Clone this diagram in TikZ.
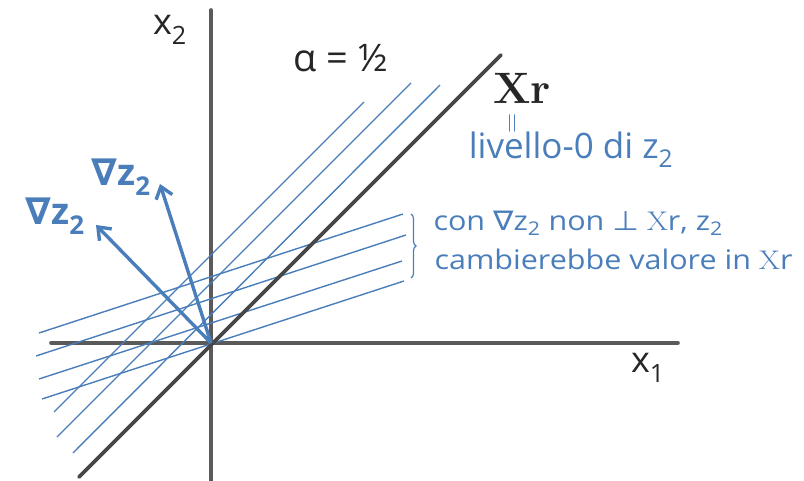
\documentclass[tikz,border=0pt]{standalone}
\usepackage{fontspec}
\setsansfont{Open Sans}
\newfontfamily\symf{DejaVu Sans}
\usetikzlibrary{arrows.meta,decorations.pathreplacing}
\definecolor{pen}{HTML}{4A7EBB}
\definecolor{axisgray}{HTML}{5A5A5A}
\definecolor{ink}{HTML}{262626}
\begin{document}
\begin{tikzpicture}[x=1pt,y=-1pt,
  axisline/.style={line width=3.6pt,color=axisgray,line cap=round},
  xrline/.style={line width=3.6pt,color=ink!85,line cap=round},
  level/.style={line width=1.4pt,color=pen},
  grad/.style={line width=3.4pt,color=pen,-{Straight Barb[length=11pt,width=17pt,line width=3.4pt]}},
  bluetxt/.style={color=pen,font=\sffamily\fontsize{27}{30}\selectfont},
  blacktxt/.style={color=ink,font=\sffamily\fontsize{36}{40}\selectfont}]
\useasboundingbox (0,0) rectangle (804,481);
\coordinate (O) at (211,343);
% axes
\coordinate (yb) at (211,481); \coordinate (yt) at (211,10);
\coordinate (xl) at (51,343);  \coordinate (xr) at (678,343);
\draw[axisline] (yb) -- (yt);
\draw[axisline] (xl) -- (xr);
% level lines alpha = 1/2 (parallel to X_r)
\draw[level] (54,412) -- (364,102);
\draw[level] (57,437) -- (411,83);
\draw[level] (73,453) -- (440,85);
% level lines not parallel
\draw[level] (39,333) -- (403,214);
\draw[level] (36,356) -- (406,235);
\draw[level] (39,379) -- (402,261);
\draw[level] (42,399) -- (404,281);
% X_r
\coordinate (Xa) at (79,477); \coordinate (Xb) at (501,55);
\draw[xrline] (Xa) -- (Xb);
% gradients
\coordinate (g1) at (160,184); \coordinate (g2) at (96,225);
\draw[grad] (O) -- (g1);
\draw[grad] (O) -- (g2);
% labels
\node[blacktxt] (lx2) at (170,30) {x\textsubscript{2}};
\node[blacktxt] (lx1) at (648,368) {x\textsubscript{1}};
\node[color=ink,font=\sffamily\fontsize{38}{42}\selectfont] (alpha) at (341,58) {α = ½};
\node[color=ink,font=\bfseries\fontsize{44}{48}\selectfont] (lxr) at (522,88) {Xr};
\node[color=pen,font=\sffamily\bfseries\fontsize{37}{40}\selectfont] (n1) at (121,177) {{\symf ∇}z\textsubscript{2}};
\node[color=pen,font=\sffamily\bfseries\fontsize{37}{40}\selectfont] (n2) at (55,216) {{\symf ∇}z\textsubscript{2}};
\node[color=pen,rotate=90,font=\fontsize{28}{30}\selectfont] (eq) at (515,123) {=};
\node[bluetxt,font=\sffamily\fontsize{35}{38}\selectfont] (liv) at (571,150) {livello-0 di z\textsubscript{2}};
\draw[color=pen,line width=1.2pt,decorate,decoration={brace,amplitude=5pt}] (411,214) -- (411,278);
\node[bluetxt,anchor=west] (t1) at (430,223) {\scalebox{1.13}[1]{con {\symf ∇}z\textsubscript{2} non {\symf ⊥} {\rmfamily X}r, z\textsubscript{2}}};
\node[bluetxt,anchor=west] (t2) at (431,259) {\scalebox{1.13}[1]{cambierebbe valore in {\rmfamily X}r}};
\end{tikzpicture}
\end{document}
